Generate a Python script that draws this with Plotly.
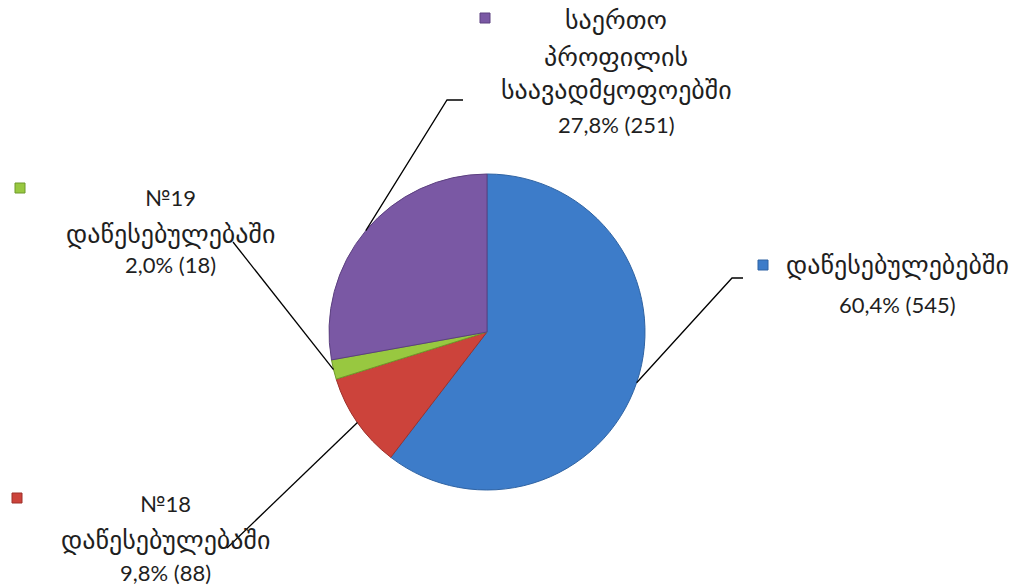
import math
import plotly.graph_objects as go

# ---- data ----
categories = ["დაწესებულებებში", "№18 დაწესებულებაში", "№19 დაწესებულებაში", "საერთო პროფილის საავადმყოფოებში"]
label_lines = [
    ["დაწესებულებებში"],
    ["№18", "დაწესებულებაში"],
    ["№19", "დაწესებულებაში"],
    ["საერთო", "პროფილის", "საავადმყოფოებში"],
]
values = [545, 88, 18, 251]
colors = ["#3d7cc9", "#cc433b", "#98c840", "#7a58a4"]
edge_colors = ["#2f63a3", "#9e312b", "#6f9a2a", "#5c4080"]

W, H = 1016, 588
CX, CY, R = 487, 332, 158

def px(x):
    return x / W

def py(y):
    return 1 - y / H

total = sum(values)
pct_text = [f"{v / total * 100:.1f}".replace(".", ",") + f"% ({v})" for v in values]

fig = go.Figure(go.Pie(
    labels=categories,
    values=values,
    sort=False,
    direction="clockwise",
    rotation=0,
    textinfo="none",
    hoverinfo="label+value+percent",
    marker=dict(colors=colors, line=dict(color=edge_colors, width=1)),
    domain=dict(x=[px(CX - R), px(CX + R)], y=[py(CY + R), py(CY - R)]),
    showlegend=False,
))

# label layout (pixel positions): text center x, line y positions, legend key, leader path
label_layout = [
    dict(cx=897, ys=[265, 304], key=(763, 265), lead=[(732, 278), (743, 278)]),
    dict(cx=165, ys=[503, 540, 572], key=(17, 498), lead=[(227, 548)]),
    dict(cx=170, ys=[197, 234, 264], key=(20, 188), lead=[(233, 242)]),
    dict(cx=616, ys=[20, 57, 90, 124], key=(485, 18), lead=[(447, 100), (463, 100)]),
]

latin_font = "Lato, DejaVu Sans, sans-serif"
geo_font = "DejaVu Sans, sans-serif"

def is_georgian(s):
    return any("\u10a0" <= ch <= "\u10ff" for ch in s)

annotations = []
shapes = []
cum = 0
for i, v in enumerate(values):
    mid = (cum + v / 2) / total * 2 * math.pi
    cum += v
    sx = CX + R * math.sin(mid)
    sy = CY - R * math.cos(mid)
    L = label_layout[i]
    lines = label_lines[i] + [pct_text[i]]
    for txt, y in zip(lines, L["ys"]):
        geo = is_georgian(txt)
        annotations.append(dict(
            x=px(L["cx"]), y=py(y), xref="paper", yref="paper",
            text=txt, showarrow=False, xanchor="center", yanchor="middle",
            font=dict(family=geo_font if geo else latin_font,
                      size=26 if geo else 22, color="#1f1f1f"),
        ))
    # leader line
    pts = [(sx, sy)] + L["lead"]
    path = "M " + " L ".join(f"{px(x)},{py(y)}" for x, y in pts)
    shapes.append(dict(type="path", xref="paper", yref="paper", path=path,
                       line=dict(color="black", width=1.3)))
    # legend key
    kx, ky = L["key"]
    shapes.append(dict(type="rect", xref="paper", yref="paper",
                       x0=px(kx - 5), x1=px(kx + 5), y0=py(ky + 5), y1=py(ky - 5),
                       fillcolor=colors[i], line=dict(color=edge_colors[i], width=1)))

fig.update_layout(
    width=W, height=H,
    margin=dict(l=0, r=0, t=0, b=0),
    paper_bgcolor="white",
    plot_bgcolor="white",
    annotations=annotations,
    shapes=shapes,
)

fig.write_html("out.html", config={"displayModeBar": False},
               post_script="document.body.style.margin='0px';")
